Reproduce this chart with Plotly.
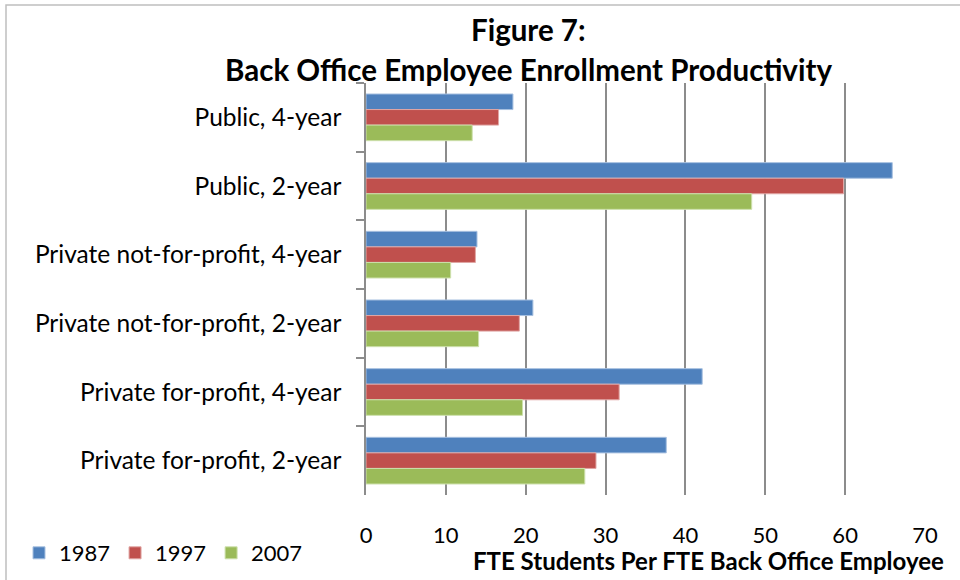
import plotly.graph_objects as go

categories = ["Public, 4-year", "Public, 2-year", "Private not-for-profit, 4-year",
              "Private not-for-profit, 2-year", "Private for-profit, 4-year",
              "Private for-profit, 2-year"]
v1987 = [18.4, 65.9, 13.9, 20.9, 42.1, 37.6]
v1997 = [16.6, 59.8, 13.7, 19.2, 31.7, 28.8]
v2007 = [13.3, 48.3, 10.6, 14.1, 19.6, 27.4]
series_names = ["1987", "1997", "2007"]
x_ticks = [0, 10, 20, 30, 40, 50, 60, 70]

colors = ["#4F81BD", "#C0504D", "#9BBB59"]
edges = ["#a7c0e0", "#e0a6a4", "#cde0ac"]
FONT = "Lato"

fig = go.Figure()
for name, vals, c, e in zip(series_names, [v1987, v1997, v2007], colors, edges):
    fig.add_trace(go.Bar(y=categories, x=vals, name=name, orientation="h",
                         marker=dict(color=c, line=dict(color=e, width=1))))

W, H = 960, 580
# target plot area in screen pixels: x 366..925, y 83..495
L = 366
R = W - 925
T = 83
B = H - 495
pw, ph = W - L - R, H - T - B

def px(x):
    return (x - L) / pw

def py(y):
    return (H - B - y) / ph

fig.update_layout(
    width=W, height=H,
    margin=dict(l=L, r=R, t=T, b=B, autoexpand=False),
    paper_bgcolor="white", plot_bgcolor="white",
    barmode="group", bargap=0.32, bargroupgap=0,
    font=dict(family=FONT, size=24, color="#000"),
    legend=dict(orientation="h", x=px(19), y=py(553), xanchor="left", yanchor="middle",
                font=dict(size=22), traceorder="normal", itemwidth=30),
    showlegend=True,
)
fig.update_xaxes(range=[0, 70], tickvals=x_ticks, showgrid=True, gridcolor="#8c8c8c",
                 gridwidth=1.5, zeroline=False, showline=False, ticks="",
                 ticklabelstandoff=25, tickfont=dict(size=22), automargin=False)
fig.update_yaxes(autorange="reversed", showline=True, linecolor="#8c8c8c", linewidth=1.5,
                 ticks="outside", tickson="boundaries", ticklen=8, tickcolor="#8c8c8c",
                 tickwidth=1.5, ticklabelstandoff=18, showgrid=False, tickfont=dict(size=24.5),
                 automargin=False)

fig.add_annotation(text="<b>Figure 7:</b>", x=px(528), y=py(30), xref="paper", yref="paper",
                   showarrow=False, font=dict(size=29.5, family=FONT), xanchor="center", yanchor="middle")
fig.add_annotation(text="<b>Back Office Employee Enrollment Productivity</b>", x=px(528), y=py(70),
                   xref="paper", yref="paper", showarrow=False, font=dict(size=29.5, family=FONT),
                   xanchor="center", yanchor="middle")
fig.add_annotation(text="<b>FTE Students Per FTE Back Office Employee</b>", x=px(946), y=py(560),
                   xref="paper", yref="paper", showarrow=False, font=dict(size=24, family=FONT),
                   xanchor="right", yanchor="middle")
fig.add_shape(type="rect", xref="paper", yref="paper", x0=px(6), x1=px(975), y0=py(5), y1=py(600),
              line=dict(color="#bfbfbf", width=1.5), fillcolor="rgba(0,0,0,0)", layer="below")

fig.write_html("out.html", config={"displayModeBar": False},
               post_script="document.body.style.margin='0';document.body.style.overflow='hidden';")
